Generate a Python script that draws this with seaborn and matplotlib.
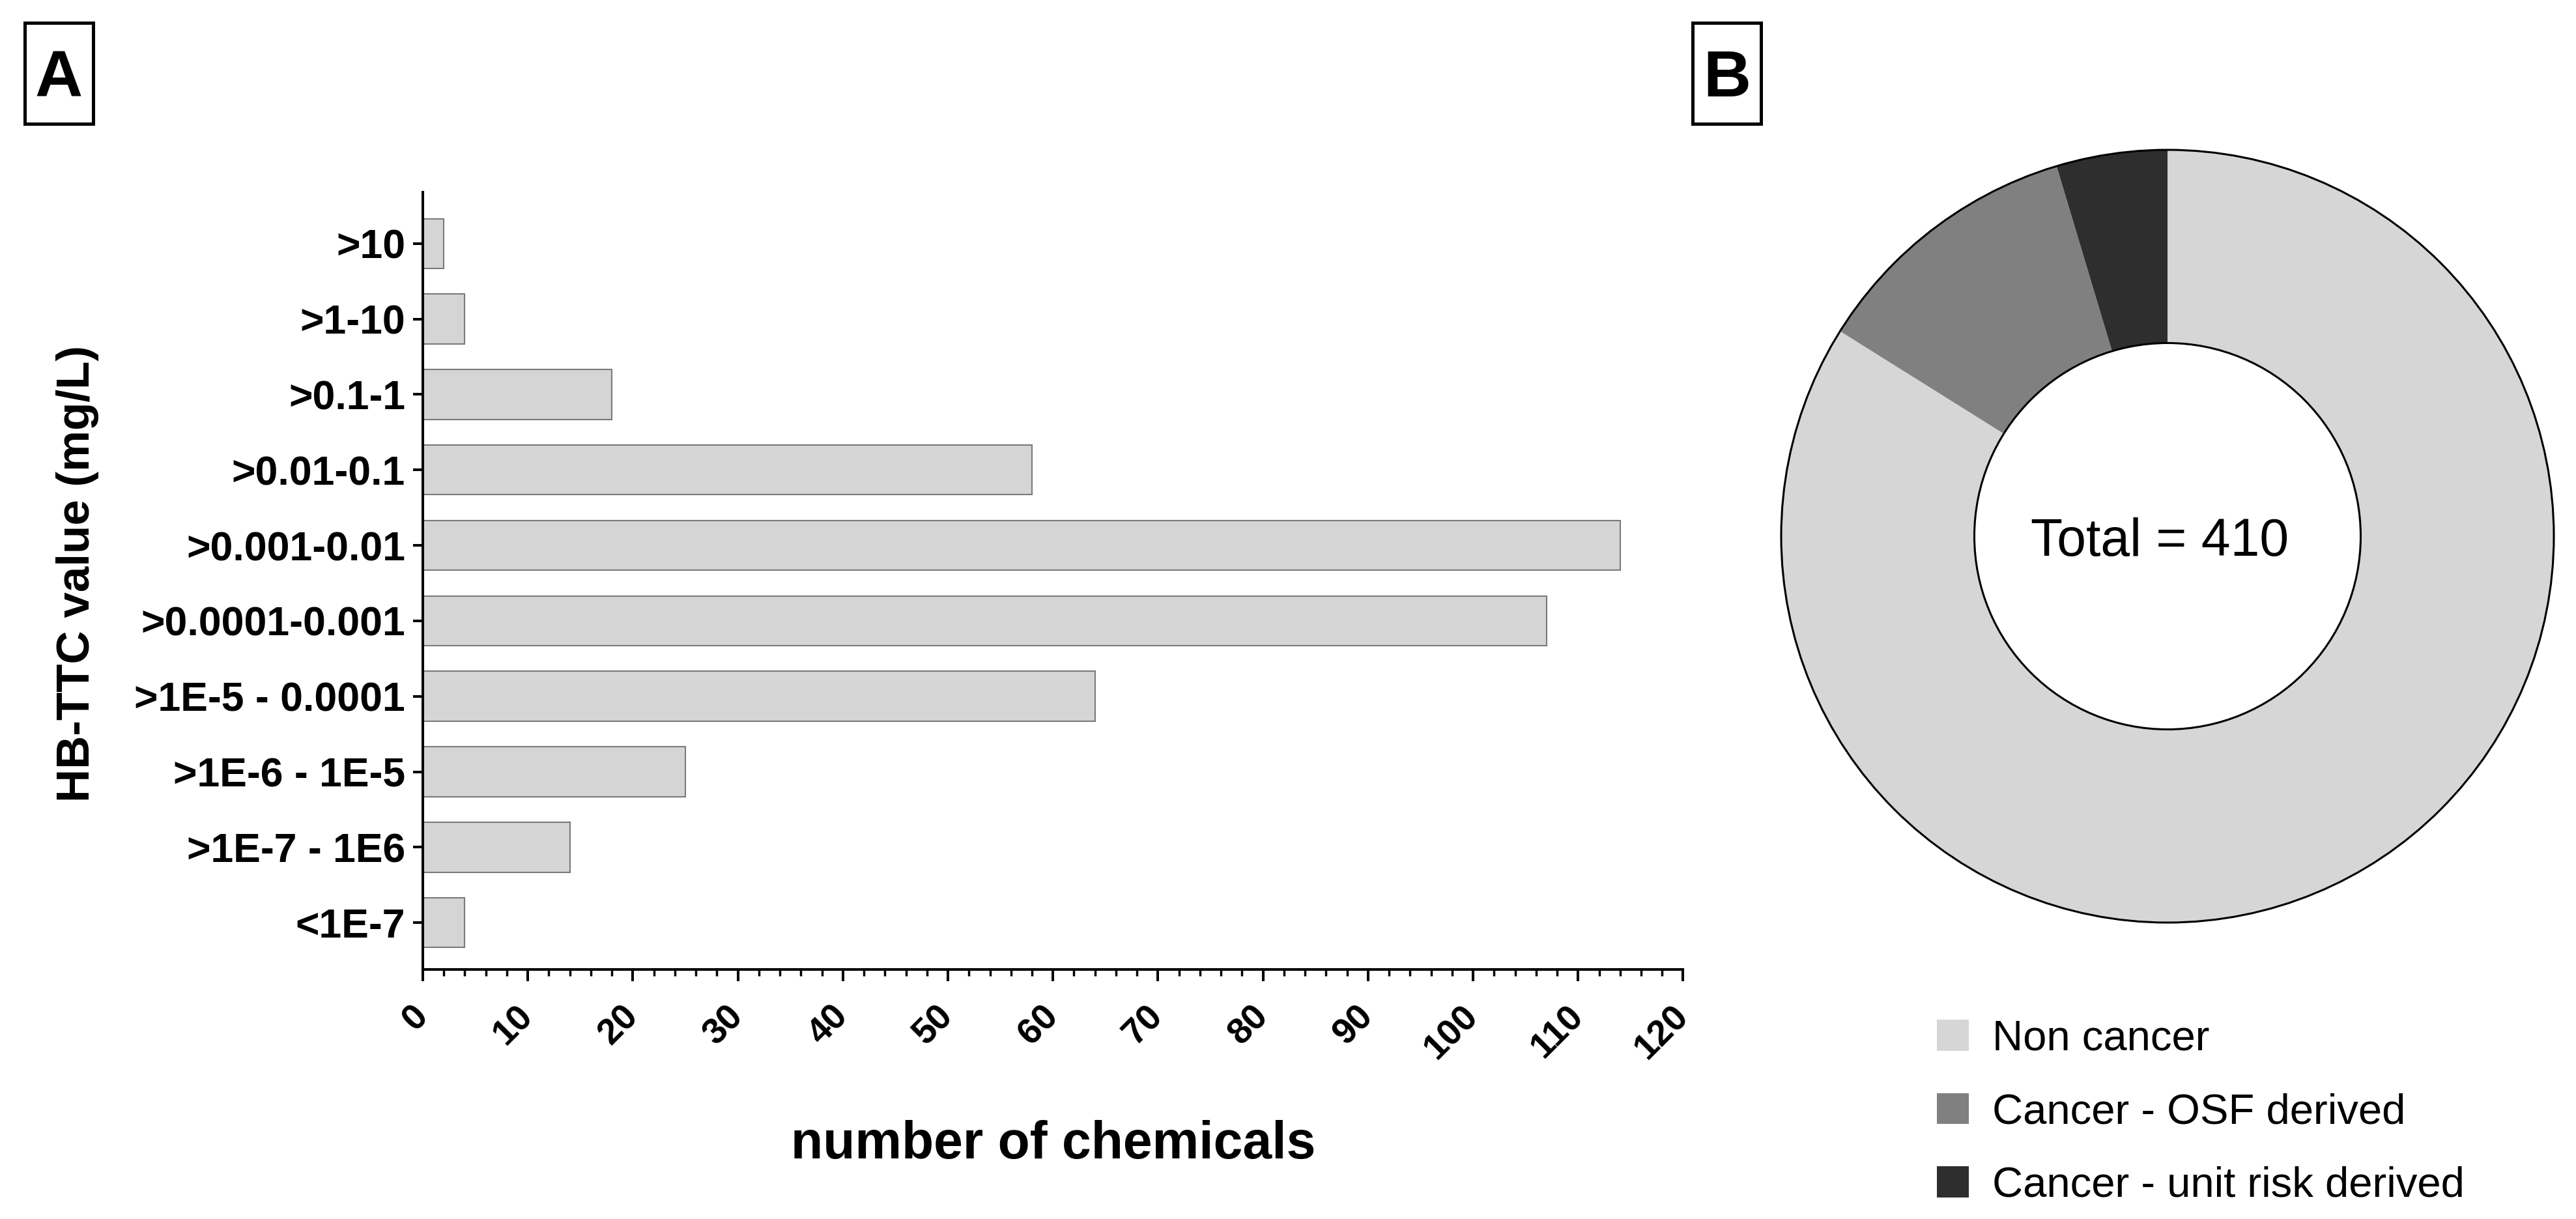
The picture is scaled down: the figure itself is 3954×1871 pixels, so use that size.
import numpy as np
import pandas as pd
import matplotlib
matplotlib.use("Agg")
import matplotlib.pyplot as plt
import seaborn as sns
from matplotlib.patches import Rectangle, Circle, Patch
from matplotlib.ticker import MultipleLocator

# ---------------- data ----------------
categories = [">10", ">1-10", ">0.1-1", ">0.01-0.1", ">0.001-0.01",
              ">0.0001-0.001", ">1E-5 - 0.0001", ">1E-6 - 1E-5",
              ">1E-7 - 1E6", "<1E-7"]
counts = [2, 4, 18, 58, 114, 107, 64, 25, 14, 4]
x_ticks = list(range(0, 121, 10))

donut_labels = ["Non cancer", "Cancer - OSF derived", "Cancer - unit risk derived"]
donut_values = [344, 47, 19]
donut_colors = ["#d6d6d6", "#808080", "#2e2e2e"]
total_label = "Total = 410"

# ---------------- style ----------------
sns.set_theme(style="white")
plt.rcParams["font.family"] = ["Liberation Sans", "DejaVu Sans"]
for k in ["text.color", "axes.labelcolor", "xtick.color", "ytick.color", "axes.edgecolor"]:
    plt.rcParams[k] = "black"

W, H = 3955, 1871
DPI = 100
fig = plt.figure(figsize=(W / DPI, H / DPI), dpi=DPI)
fig.patch.set_facecolor("white")


def fx(px):
    return px / W


def fy(py):
    return 1 - py / H


# ---------------- panel A: bar chart ----------------
ax_l, ax_r, ax_t, ax_b = 649, 2583.5, 295, 1488
ax = fig.add_axes([fx(ax_l), fy(ax_b), (ax_r - ax_l) / W, (ax_b - ax_t) / H])
df = pd.DataFrame({"cat": categories, "n": counts})
sns.barplot(data=df, x="n", y="cat", orient="h", color="#d5d5d5",
            saturation=1, edgecolor="#7a7a7a", linewidth=1.5, width=0.66, ax=ax)

ax.set_xlim(0, 120)
ax.set_ylim(9.62, -0.68)
sns.despine(ax=ax)
for s in ["left", "bottom"]:
    ax.spines[s].set_linewidth(2.9)
    ax.spines[s].set_color("black")

ax.set_xticks(x_ticks)
ax.set_xticklabels([str(v) for v in x_ticks], rotation=45, ha="right", va="center",
                   rotation_mode="anchor", fontsize=40, fontweight="bold")
ax.xaxis.set_minor_locator(MultipleLocator(2))
ax.tick_params(axis="x", which="major", bottom=True, length=13, width=2.9,
               direction="out", pad=33, colors="black")
ax.tick_params(axis="x", which="minor", bottom=True, length=7, width=2.5,
               direction="out", colors="black")

ax.set_yticks(range(len(categories)))
ax.set_yticklabels(categories, fontsize=45, fontweight="bold")
ax.tick_params(axis="y", which="major", left=True, length=10.8, width=2.9,
               direction="out", pad=8.6, colors="black")

ax.set_xlabel("number of chemicals", fontsize=58, fontweight="bold")
ax.xaxis.set_label_coords(0.5, -0.1936)
ax.set_ylabel("HB-TTC value (mg/L)", fontsize=51, fontweight="bold")
ax.yaxis.set_label_coords(-0.2569, 0.5096)

# ---------------- panel B: donut ----------------
cx, cy, R = 3327, 823, 593
half = 650
ax2 = fig.add_axes([fx(cx - half), fy(cy + half), 2 * half / W, 2 * half / H])
ax2.pie(donut_values, colors=donut_colors, startangle=90, counterclock=False,
        radius=1, wedgeprops=dict(width=0.5, edgecolor="none", linewidth=0))
lim = half / R
ax2.set_xlim(-lim, lim)
ax2.set_ylim(-lim, lim)
ax2.add_patch(Circle((0, 0), 1.0, fill=False, edgecolor="black", lw=2.2))
ax2.add_patch(Circle((0, 0), 0.5, fill=False, edgecolor="black", lw=2.2))
ax2.text(-0.02, -30 / R, total_label, ha="center", va="baseline", fontsize=58)
ax2.axis("off")

handles = [Patch(facecolor=c, edgecolor="none") for c in donut_colors]
fig.legend(handles, donut_labels, loc="upper left",
           bbox_to_anchor=(fx(2973), fy(1565)), frameon=False, fontsize=47,
           handlelength=0.75, handleheight=0.75, handletextpad=0.55,
           labelspacing=0.8, borderpad=0, borderaxespad=0)

# ---------------- panel letters ----------------
for (x0, x1, letter) in [(38, 143, "A"), (2598, 2703, "B")]:
    fig.add_artist(Rectangle((fx(x0), fy(190)), (x1 - x0) / W, 155 / H,
                             transform=fig.transFigure, fill=False,
                             lw=3.6, edgecolor="black"))
    fig.text(fx((x0 + x1) / 2), fy(148), letter, ha="center", va="baseline",
             fontsize=73, fontweight="bold")

fig.savefig("out.png", dpi=DPI, facecolor="white")
